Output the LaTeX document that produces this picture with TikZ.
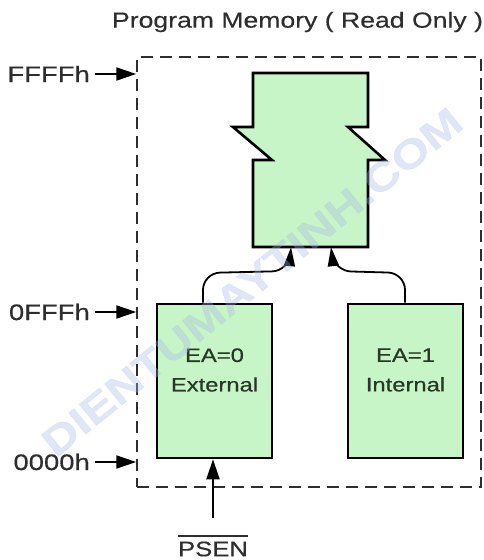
\documentclass[tikz,border=0pt]{standalone}
\usepackage{fontspec}
\setmainfont{Liberation Sans}[FakeStretch=1.22, FakeBold=0.4]
\usetikzlibrary{arrows.meta}
\definecolor{memfill}{HTML}{C8F5C8}
\definecolor{ink}{HTML}{2E2E2E}
\definecolor{boxink}{HTML}{263826}
\definecolor{wmark}{HTML}{A9B8E6}
\tikzset{
  memblock/.style={draw=black, fill=memfill, line width=2.6pt, line join=miter},
  membox/.style={memblock, minimum width=115pt, minimum height=154pt, inner sep=0pt},
  frame/.style={draw=ink, dashed, dash pattern=on 12pt off 7pt, line width=1.5pt,
                minimum width=344pt, minimum height=430pt, inner sep=0pt},
  addr/.style={text=ink, font=\fontsize{22.5}{26}\selectfont, inner sep=0pt, anchor=east},
  boxtext/.style={text=boxink, font=\fontsize{19.5}{29.5}\selectfont, align=center, inner sep=0pt},
  arr/.style={-{Triangle[length=20pt,width=13pt]}, line width=2pt, black},
  link/.style={-{Triangle[length=19pt,width=11pt]}, line width=1.8pt, black, rounded corners=17pt},
}
\begin{document}
\begin{tikzpicture}[x=1pt, y=-1pt]
  \useasboundingbox (0,0) rectangle (484,560);

  % title
  \node[text=ink, font=\fontsize{21.8}{26}\selectfont, inner sep=0pt] (title) at (297.5,22) {Program Memory ( Read Only )};

  % dashed outline of the whole program memory space
  \node[frame] (space) at (309,272) {};

  % upper memory block with break marks
  \node[minimum width=115pt, minimum height=174pt, inner sep=0pt] (mem) at (310.5,160) {};
  \draw[memblock] (253,73) -- (368,73) -- (368,127) -- (348,127) -- (385,160) -- (368,160)
        -- (368,247) -- (253,247) -- (253,160) -- (272,160) -- (233,127) -- (253,127) -- cycle;

  % external and internal blocks
  \node[membox] (ea0) at (214.5,381) {};
  \node[membox] (ea1) at (405.5,381) {};
  \node[boxtext] (ea0t) at (214.5,370) {EA=0\\External};
  \node[boxtext] (ea1t) at (405.5,370) {EA=1\\Internal};

  % connections into the upper block
  \draw[link] (ea0.north -| 203,0) -- (203,273) -- (289,271) -- (mem.south -| 291,0);
  \draw[link] (ea1.north -| 405,0) -- (405,273) -- (334,271) -- (mem.south -| 331,0);

  % address markers
  \node[addr] (a3) at (90,74) {FFFFh};
  \node[addr] (a2) at (90,312) {0FFFh};
  \node[addr] (a1) at (90,462) {0000h};
  \draw[arr] ([xshift=5pt]a3.east) -- (a3.east -| space.west);
  \draw[arr] ([xshift=5pt]a2.east) -- (a2.east -| space.west);
  \draw[arr] ([xshift=5pt]a1.east) -- (a1.east -| space.west);

  % program store enable input
  \node[text=ink, font=\fontsize{21}{25}\selectfont, inner sep=0pt] (psen) at (213,549) {PSEN};
  \draw[line width=2pt, ink] ([yshift=5pt]psen.north west) -- ([yshift=5pt]psen.north east);
  \coordinate (psenin) at (213,518);
  \draw[arr] (psenin) -- (ea0.south -| psenin);

  % site watermark
  \node[text=wmark, opacity=0.35, rotate=39, font=\bfseries\fontsize{40}{44}\selectfont, inner sep=0pt] (wm) at (252,282) {DIENTUMAYTINH.COM};
\end{tikzpicture}
\end{document}
